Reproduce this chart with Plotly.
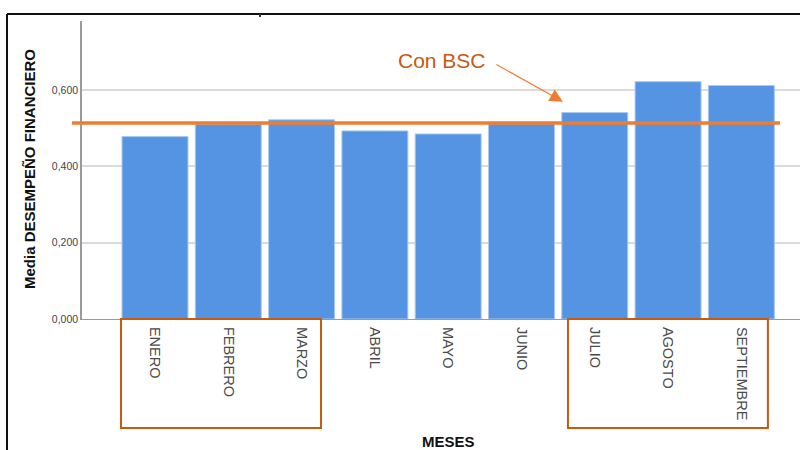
import plotly.graph_objects as go

meses = ["ENERO", "FEBRERO", "MARZO", "ABRIL", "MAYO", "JUNIO", "JULIO", "AGOSTO", "SEPTIEMBRE"]
media_desempeno = [0.478, 0.510, 0.522, 0.493, 0.485, 0.511, 0.541, 0.622, 0.612]
linea_con_bsc = 0.514
y_ticks = [0.0, 0.2, 0.4, 0.6]

FONT = "Liberation Sans, Arial, sans-serif"
ORANGE = "#ED7D31"
DARK_ORANGE = "#C55A11"

fig = go.Figure()
fig.add_trace(go.Bar(
    x=list(range(len(meses))), y=media_desempeno,
    marker=dict(color="#5594E3", line=dict(color="#A9C8F0", width=1)),
    hoverinfo="skip",
))

W, H = 800, 450
ml, mr, mt, mb = 82, 0, 21, 131
pw, ph = W - ml - mr, H - mt - mb

def px_x(p):
    return (p - ml) / pw

def px_y(p):
    return (H - mb - p) / ph

shapes = [
    # outer frame (top and left)
    dict(type="line", xref="paper", yref="paper", x0=px_x(7), x1=px_x(805), y0=px_y(14), y1=px_y(14),
         line=dict(color="#111111", width=2)),
    dict(type="line", xref="paper", yref="paper", x0=px_x(7), x1=px_x(7), y0=px_y(14), y1=px_y(455),
         line=dict(color="#111111", width=2)),
    dict(type="line", xref="paper", yref="paper", x0=px_x(260), x1=px_x(260), y0=px_y(14), y1=px_y(17),
         line=dict(color="#333333", width=2)),
    # mean line "Con BSC"
    dict(type="line", xref="paper", yref="y", x0=px_x(72), x1=px_x(780), y0=linea_con_bsc, y1=linea_con_bsc,
         line=dict(color=ORANGE, width=3.5)),
    # highlight boxes
    dict(type="rect", xref="x", yref="paper", x0=-0.464, x1=2.265, y0=0, y1=px_y(428),
         line=dict(color=DARK_ORANGE, width=2)),
    dict(type="rect", xref="x", yref="paper", x0=5.634, x1=8.362, y0=0, y1=px_y(428),
         line=dict(color=DARK_ORANGE, width=2)),
]

annotations = [
    dict(text="Con BSC", xref="x", yref="y", x=3.915, y=0.677, showarrow=False,
         xanchor="center", yanchor="middle",
         font=dict(family=FONT, size=21, color=DARK_ORANGE)),
    dict(text="", xref="x", yref="y", x=5.566, y=0.5696, ax=-68, ay=-38, showarrow=True,
         arrowhead=2, arrowsize=2.2, arrowwidth=1.2, arrowcolor=ORANGE),
    dict(text="<b>Media DESEMPEÑO FINANCIERO</b>", xref="paper", yref="paper", x=px_x(30), y=px_y(169),
         xanchor="center", yanchor="middle",
         textangle=-90, showarrow=False, font=dict(family=FONT, size=15, color="#111111")),
    dict(text="<b>MESES</b>", xref="paper", yref="paper", x=px_x(448), y=px_y(441),
         xanchor="center", yanchor="middle",
         showarrow=False, font=dict(family=FONT, size=15, color="#111111")),
]

fig.update_layout(
    width=W, height=H,
    margin=dict(l=ml, r=mr, t=mt, b=mb),
    paper_bgcolor="white", plot_bgcolor="white",
    bargap=0.1,
    showlegend=False,
    separators=",.",
    shapes=shapes,
    annotations=annotations,
    font=dict(family=FONT, color="#333333"),
    xaxis=dict(
        tickmode="array", tickvals=list(range(len(meses))), ticktext=meses,
        range=[-0.996, 8.8], tickangle=90, showgrid=False, zeroline=False,
        showline=True, linecolor="#9a9a9a", linewidth=1, ticks="",
        ticklabelstandoff=4,
        tickfont=dict(family=FONT, size=14.5, color="#4a4a4a"),
    ),
    yaxis=dict(
        range=[0, 0.781], tickvals=y_ticks, tickformat=".3f",
        showgrid=True, gridcolor="#dadada", gridwidth=1.5, zeroline=False,
        showline=True, linecolor="#9a9a9a", linewidth=1.5, ticks="",
        tickfont=dict(family=FONT, size=10.5, color="#444444"),
    ),
)

fig.write_html("out.html")
